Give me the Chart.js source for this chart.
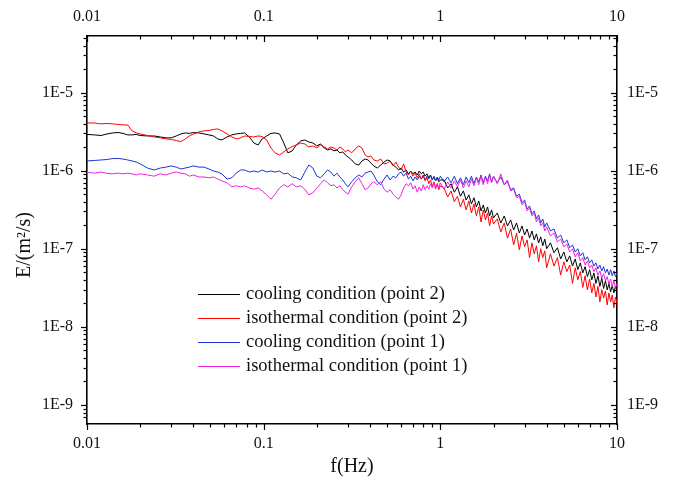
<!DOCTYPE html>
<html>
<head>
<meta charset="utf-8">
<script src="https://cdn.jsdelivr.net/npm/chart.js@4.4.0/dist/chart.umd.min.js"></script>
<style>
  html, body { margin: 0; padding: 0; background: #fff; }
  #wrap { position: relative; width: 675px; height: 479px; }
</style>
</head>
<body>
<div id="wrap"><canvas id="myChart"></canvas></div>
<script>
// energy spectra, E in units of 1E-6 m^2/s
const UNIT = 1e-6;

const freq = [
  0.010, 0.011, 0.012, 0.013, 0.014, 0.015, 0.016, 0.017, 0.018, 0.019,
  0.020, 0.022, 0.024, 0.026, 0.028, 0.030, 0.032, 0.034, 0.036, 0.038,
  0.040, 0.043, 0.046, 0.049, 0.052, 0.055, 0.058, 0.062, 0.066, 0.070,
  0.074, 0.078, 0.083, 0.088, 0.093, 0.098, 0.104, 0.110, 0.116, 0.123,
  0.130, 0.137, 0.145, 0.153, 0.162, 0.171, 0.180, 0.190, 0.200, 0.210,
  0.220, 0.230, 0.240, 0.250, 0.260, 0.270, 0.280, 0.290, 0.300, 0.315,
  0.330, 0.345, 0.360, 0.375, 0.390, 0.405, 0.420, 0.440, 0.460, 0.480,
  0.500, 0.520, 0.540, 0.560, 0.580, 0.600, 0.620, 0.640, 0.660, 0.680,
  0.700, 0.720, 0.740, 0.760, 0.780, 0.800, 0.820, 0.840, 0.860, 0.880,
  0.900, 0.920, 0.940, 0.960, 0.980, 1.000,
  1.05, 1.10, 1.15, 1.20, 1.25, 1.30, 1.35, 1.40, 1.45, 1.50,
  1.55, 1.60, 1.65, 1.70, 1.75, 1.80, 1.85, 1.90, 1.95, 2.00,
  2.1, 2.2, 2.3, 2.4, 2.5, 2.6, 2.7, 2.8, 2.9, 3.0,
  3.1, 3.2, 3.3, 3.4, 3.5, 3.6, 3.7, 3.8, 3.9, 4.0,
  4.2, 4.4, 4.6, 4.8, 5.0, 5.2, 5.4, 5.6, 5.8, 6.0,
  6.2, 6.4, 6.6, 6.8, 7.0, 7.2, 7.4, 7.6, 7.8, 8.0,
  8.2, 8.4, 8.6, 8.8, 9.0, 9.2, 9.4, 9.6, 9.8, 10.0
];

// cooling condition (point 2)
const coolingP2 = [
  2.91, 2.87, 2.82, 2.95, 3.04, 3.08, 3.00, 2.87, 2.87, 2.91,
  2.82, 2.78, 2.78, 2.70, 2.63, 2.63, 2.78, 2.95, 3.04, 3.00,
  3.08, 3.04, 2.95, 2.87, 2.78, 2.55, 2.47, 2.70, 2.87, 2.95,
  3.00, 3.04, 2.70, 2.26, 2.13, 2.55, 2.78, 3.00, 3.04, 2.95,
  2.26, 1.69, 1.79, 2.13, 2.40, 2.47, 2.33, 2.26, 2.07, 2.20,
  1.95, 1.84, 1.90, 1.79, 1.84, 1.69, 1.74, 1.59, 1.50, 1.37,
  1.22, 1.18, 1.33, 1.41, 1.37, 1.25, 1.15, 1.08, 1.18, 1.29,
  1.37, 1.33, 1.18, 1.11, 1.02, 1.08, 0.96, 1.02, 0.91, 0.99,
  0.91, 0.96, 0.88, 0.99, 0.91, 0.96, 0.85, 0.91, 0.81, 0.88,
  0.76, 0.83, 0.74, 0.81, 0.72, 0.76,
  0.76, 0.60, 0.68, 0.53, 0.62, 0.47, 0.55, 0.42, 0.49, 0.375,
  0.45, 0.343, 0.41, 0.305, 0.364, 0.287, 0.343, 0.263, 0.314, 0.248,
  0.287, 0.214, 0.263, 0.196, 0.234, 0.174, 0.214, 0.159, 0.196, 0.150,
  0.179, 0.137, 0.169, 0.130, 0.155, 0.119, 0.142, 0.109, 0.133, 0.100,
  0.119, 0.089, 0.103, 0.074, 0.091, 0.068, 0.081, 0.060, 0.074, 0.054,
  0.066, 0.049, 0.059, 0.044, 0.054, 0.040, 0.049, 0.036, 0.045, 0.033,
  0.042, 0.031, 0.039, 0.0297, 0.036, 0.0280, 0.034, 0.0272, 0.033, 0.0288
];

// isothermal condition (point 2)
const isoP2 = [
  4.08, 4.08, 3.97, 4.02, 3.97, 3.91, 3.85, 3.85, 3.23, 3.04,
  2.95, 2.82, 2.70, 2.63, 2.55, 2.51, 2.43, 2.36, 2.55, 2.78,
  2.95, 3.13, 3.23, 3.27, 3.37, 3.42, 3.23, 2.95, 2.70, 2.55,
  2.63, 2.78, 2.74, 2.70, 2.78, 2.74, 2.47, 1.95, 1.69, 1.59,
  1.74, 1.90, 2.04, 2.13, 2.26, 2.20, 2.01, 2.07, 1.95, 2.13,
  2.01, 1.90, 2.01, 1.95, 1.84, 2.01, 1.90, 1.74, 1.84, 1.69,
  1.90, 2.07, 1.95, 1.59, 1.50, 1.54, 1.37, 1.33, 1.41, 1.22,
  1.25, 1.33, 1.15, 1.29, 1.11, 1.02, 1.22, 0.96, 0.88, 0.99,
  0.85, 0.93, 0.81, 0.91, 0.78, 0.85, 0.74, 0.81, 0.68, 0.76,
  0.62, 0.72, 0.60, 0.68, 0.57, 0.64,
  0.60, 0.46, 0.55, 0.40, 0.47, 0.343, 0.43, 0.314, 0.41, 0.287,
  0.375, 0.263, 0.343, 0.220, 0.314, 0.234, 0.287, 0.196, 0.263, 0.208,
  0.241, 0.164, 0.214, 0.137, 0.179, 0.112, 0.159, 0.097, 0.146, 0.106,
  0.130, 0.077, 0.119, 0.086, 0.109, 0.068, 0.100, 0.077, 0.094, 0.057,
  0.086, 0.060, 0.077, 0.046, 0.068, 0.051, 0.062, 0.036, 0.057, 0.040,
  0.051, 0.032, 0.045, 0.0297, 0.041, 0.0272, 0.036, 0.0241, 0.033, 0.0208,
  0.030, 0.0234, 0.0288, 0.0191, 0.0272, 0.0208, 0.0256, 0.0175, 0.0241, 0.0202
];

// cooling condition (point 1)
const coolingP1 = [
  1.33, 1.35, 1.37, 1.39, 1.43, 1.43, 1.41, 1.37, 1.33, 1.29,
  1.22, 1.08, 1.02, 1.08, 1.11, 1.15, 1.11, 1.05, 1.08, 1.11,
  1.15, 1.11, 1.11, 1.05, 0.99, 0.96, 0.91, 0.78, 0.81, 0.93,
  1.02, 1.02, 0.96, 0.99, 0.96, 1.02, 0.96, 0.99, 0.96, 0.99,
  0.91, 0.93, 0.83, 0.81, 0.76, 0.96, 1.18, 1.08, 0.85, 0.81,
  0.91, 1.02, 0.96, 0.85, 0.93, 0.83, 0.76, 0.68, 0.62, 0.72,
  0.81, 0.88, 0.83, 0.93, 0.96, 0.99, 0.88, 0.72, 0.66, 0.78,
  0.88, 0.76, 0.85, 0.81, 0.91, 0.96, 0.85, 0.93, 0.78, 0.85,
  0.74, 0.83, 0.76, 0.85, 0.78, 0.88, 0.76, 0.85, 0.78, 0.88,
  0.76, 0.85, 0.74, 0.83, 0.76, 0.85,
  0.72, 0.83, 0.70, 0.85, 0.68, 0.81, 0.66, 0.83, 0.70, 0.85,
  0.68, 0.83, 0.72, 0.88, 0.70, 0.85, 0.74, 0.91, 0.72, 0.85,
  0.70, 0.83, 0.66, 0.72, 0.57, 0.60, 0.47, 0.50, 0.39, 0.42,
  0.323, 0.353, 0.279, 0.305, 0.241, 0.271, 0.214, 0.241, 0.190, 0.214,
  0.169, 0.179, 0.137, 0.150, 0.119, 0.130, 0.103, 0.112, 0.091, 0.100,
  0.081, 0.089, 0.072, 0.079, 0.066, 0.072, 0.060, 0.066, 0.055, 0.062,
  0.052, 0.059, 0.049, 0.055, 0.046, 0.054, 0.045, 0.052, 0.044, 0.049
];

// isothermal condition (point 1)
const isoP1 = [
  0.95, 0.93, 0.96, 0.92, 0.91, 0.93, 0.91, 0.93, 0.91, 0.88,
  0.91, 0.88, 0.85, 0.91, 0.88, 0.93, 0.96, 0.93, 0.91, 0.85,
  0.88, 0.83, 0.83, 0.81, 0.83, 0.78, 0.74, 0.70, 0.62, 0.64,
  0.62, 0.64, 0.60, 0.58, 0.60, 0.55, 0.49, 0.43, 0.50, 0.60,
  0.66, 0.62, 0.68, 0.62, 0.64, 0.58, 0.49, 0.52, 0.60, 0.68,
  0.76, 0.70, 0.64, 0.66, 0.60, 0.64, 0.57, 0.53, 0.50, 0.62,
  0.72, 0.81, 0.68, 0.57, 0.60, 0.68, 0.72, 0.66, 0.72, 0.58,
  0.53, 0.57, 0.50, 0.46, 0.43, 0.49, 0.60, 0.68, 0.64, 0.70,
  0.58, 0.64, 0.53, 0.62, 0.55, 0.66, 0.57, 0.64, 0.58, 0.68,
  0.60, 0.70, 0.58, 0.68, 0.60, 0.70,
  0.58, 0.72, 0.60, 0.74, 0.62, 0.76, 0.60, 0.74, 0.62, 0.78,
  0.64, 0.81, 0.66, 0.85, 0.66, 0.83, 0.68, 0.88, 0.70, 0.85,
  0.68, 0.91, 0.66, 0.76, 0.55, 0.58, 0.45, 0.47, 0.364, 0.40,
  0.305, 0.333, 0.263, 0.287, 0.220, 0.248, 0.196, 0.214, 0.169, 0.190,
  0.146, 0.159, 0.122, 0.133, 0.106, 0.115, 0.091, 0.100, 0.079, 0.089,
  0.070, 0.077, 0.062, 0.070, 0.057, 0.062, 0.051, 0.057, 0.046, 0.052,
  0.042, 0.048, 0.039, 0.044, 0.035, 0.041, 0.033, 0.039, 0.032, 0.036
];

const seriesLabels = [
  'cooling condition (point 2)',
  'isothermal condition (point 2)',
  'cooling condition (point 1)',
  'isothermal condition (point 1)'
];

const xTickValues = [0.01, 0.1, 1, 10];
const xTickLabels = ['0.01', '0.1', '1', '10'];
const yTickValues = [1e-9, 1e-8, 1e-7, 1e-6, 1e-5];
const yTickLabels = ['1E-9', '1E-8', '1E-7', '1E-6', '1E-5'];

const SERIF = "'Liberation Serif', 'Times New Roman', serif";

function labelFor(values, labels) {
  return (v) => {
    const i = values.findIndex(t => Math.abs(Math.log10(v) - Math.log10(t)) < 1e-6);
    return i >= 0 ? labels[i] : '';
  };
}

function toPoints(series) {
  return freq.map((f, i) => ({ x: f, y: series[i] * UNIT }));
}

// tick marks: left/bottom point out, top/right point in
const tickMarks = {
  id: 'tickMarks',
  afterDraw(chart) {
    const ctx = chart.ctx;
    const a = chart.chartArea;
    ctx.save();
    ctx.strokeStyle = '#000';
    ctx.lineWidth = 1.2;
    ['x', 'x2', 'y', 'y2'].forEach(id => {
      const s = chart.scales[id];
      s.ticks.forEach(t => {
        const v = t.value;
        const exp = Math.floor(Math.log10(v) + 1e-9);
        const m = v / Math.pow(10, exp);
        if (Math.abs(m - Math.round(m)) > 1e-6) return;
        const len = Math.abs(m - 1) < 1e-6 ? 6 : 3.5;
        const p = Math.round(s.getPixelForValue(v)) + 0.5;
        ctx.beginPath();
        if (id === 'x') { ctx.moveTo(p, a.bottom); ctx.lineTo(p, a.bottom + len); }
        if (id === 'x2') { ctx.moveTo(p, a.top); ctx.lineTo(p, a.top + len); }
        if (id === 'y') { ctx.moveTo(a.left - len, p); ctx.lineTo(a.left, p); }
        if (id === 'y2') { ctx.moveTo(a.right - len, p); ctx.lineTo(a.right, p); }
        ctx.stroke();
      });
    });
    ctx.restore();
  }
};

const yTitle = {
  id: 'yTitle',
  afterDraw(chart, args, opts) {
    const ctx = chart.ctx;
    ctx.save();
    ctx.translate(opts.x, opts.y);
    ctx.rotate(-Math.PI / 2);
    ctx.font = opts.font;
    ctx.fillStyle = '#111';
    ctx.textAlign = 'center';
    ctx.textBaseline = 'middle';
    ctx.fillText(opts.text, 0, 0);
    ctx.restore();
  }
};

const legendBox = {
  id: 'legendBox',
  afterDraw(chart, args, opts) {
    const ctx = chart.ctx;
    ctx.save();
    ctx.font = opts.font;
    ctx.textBaseline = 'middle';
    chart.data.datasets.forEach((ds, i) => {
      const y = opts.top + i * opts.rowHeight;
      ctx.strokeStyle = ds.borderColor;
      ctx.lineWidth = 1;
      ctx.beginPath();
      ctx.moveTo(opts.left, y + 0.5);
      ctx.lineTo(opts.left + opts.lineLength, y + 0.5);
      ctx.stroke();
      ctx.fillStyle = '#111';
      ctx.fillText(ds.label, opts.left + opts.lineLength + 6, y);
    });
    ctx.restore();
  }
};

const colors = ['#000000', '#ff0000', '#1c34d4', '#f020e0'];
const drawOrder = [4, 2, 3, 1];
const allSeries = [coolingP2, isoP2, coolingP1, isoP1];

const datasets = allSeries.map((s, i) => ({
  label: seriesLabels[i],
  data: toPoints(s),
  borderColor: colors[i],
  borderWidth: 1,
  pointRadius: 0,
  fill: false,
  tension: 0,
  order: drawOrder[i],
  xAxisID: 'x',
  yAxisID: 'y'
}));

const xRange = { min: 0.01, max: 10 };
const yRange = { min: 5.7e-10, max: 5.3e-5 };

function logAxis(position, range, values, labels, padding, size) {
  const horizontal = position === 'top' || position === 'bottom';
  return {
    type: 'logarithmic',
    position: position,
    min: range.min,
    max: range.max,
    grid: { display: true, drawOnChartArea: false, drawTicks: false },
    border: { display: true, color: '#000', width: 1.6 },
    ticks: {
      autoSkip: false,
      maxRotation: 0,
      minRotation: 0,
      padding: padding,
      color: '#111',
      font: { family: SERIF, size: 16 },
      callback: labelFor(values, labels)
    },
    afterFit: (s) => {
      if (horizontal) s.height = size; else s.width = size;
    }
  };
}

const xAxis = logAxis('bottom', xRange, xTickValues, xTickLabels, 10, 55);
xAxis.title = {
  display: true,
  text: 'f(Hz)',
  color: '#111',
  font: { family: SERIF, size: 20, lineHeight: 1 },
  padding: { top: 0, bottom: 2 }
};

new Chart(document.getElementById('myChart'), {
  type: 'line',
  data: { datasets: datasets },
  options: {
    responsive: true,
    maintainAspectRatio: false,
    animation: false,
    devicePixelRatio: 1,
    layout: { padding: 0 },
    scales: {
      x: xAxis,
      x2: logAxis('top', xRange, xTickValues, xTickLabels, 9.5, 36),
      y: logAxis('left', yRange, yTickValues, yTickLabels, 14, 87),
      y2: logAxis('right', yRange, yTickValues, yTickLabels, 10, 58)
    },
    plugins: {
      legend: { display: false },
      tooltip: { enabled: false },
      yTitle: { text: 'E/(m\u00b2/s)', x: 25, y: 245, font: '20px ' + SERIF },
      legendBox: { left: 198, top: 294, rowHeight: 24, lineLength: 42, font: '18.5px ' + SERIF }
    }
  },
  plugins: [tickMarks, yTitle, legendBox]
});
</script>
</body>
</html>
